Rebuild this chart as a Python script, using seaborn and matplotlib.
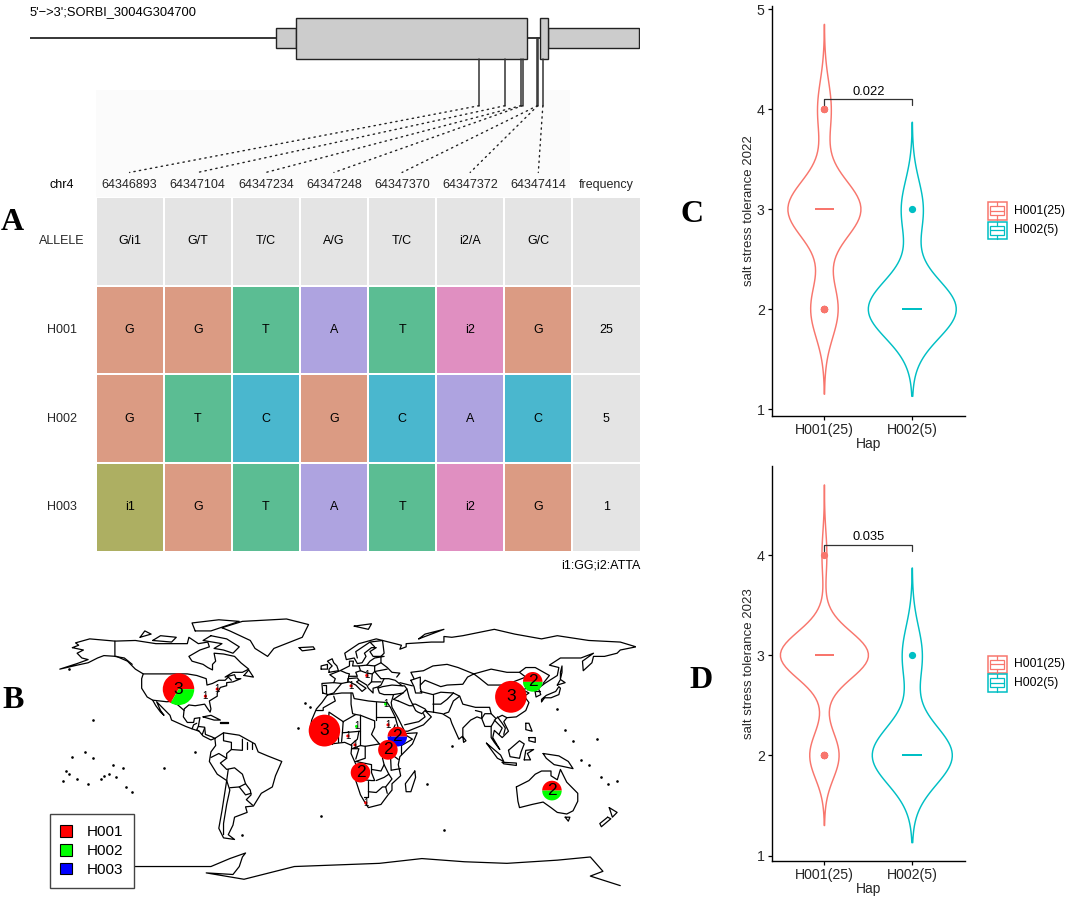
import numpy as np
import pandas as pd
import matplotlib
matplotlib.use('Agg')
import matplotlib.pyplot as plt
from matplotlib.colors import ListedColormap
from matplotlib.patches import ConnectionPatch, Patch, Rectangle
from matplotlib.transforms import Affine2D
import seaborn as sns

# Figure size in pixels
W, H = 1065, 898

# Panel A: gene model and haplotype table
SNP_POS = [64346893, 64347104, 64347234, 64347248, 64347370, 64347372, 64347414]
GENE_SPAN = [64343228, 64348207]
UTR = [(64345232, 64345399), (64347460, 64348195)]
CDS = [(64345399, 64347285), (64347391, 64347460)]
TABLE_COLS = ['64346893', '64347104', '64347234', '64347248', '64347370', '64347372', '64347414', 'frequency']
TABLE_ROWS = ['ALLELE', 'H001', 'H002', 'H003']
TABLE_CELLS = [
    ['G/i1', 'G/T', 'T/C', 'A/G', 'T/C', 'i2/A', 'G/C', ''],
    ['G', 'G', 'T', 'A', 'T', 'i2', 'G', '25'],
    ['G', 'T', 'C', 'G', 'C', 'A', 'C', '5'],
    ['i1', 'G', 'T', 'A', 'T', 'i2', 'G', '1'],
]
ALLELES = ['', 'G', 'T', 'C', 'A', 'i2', 'i1']
ALLELE_COLORS = ['#E4E4E4', '#DB9B83', '#5BBD93', '#4AB7CE', '#AEA3E0', '#E08FC1', '#ADAF62']

# Panel B: haplotype counts per location
HAPLOTYPES = ['H001', 'H002', 'H003']
HAP_MAP_COLORS = ['#FF0000', '#00FF00', '#0000FF']
PIE_LON = [-100.6, -7.9, 110.5, 124.4, 38.4, 32.4, 15.0, 136.6,
           -76.0, -83.5, 9.0, 19.0, 31.0, 32.5, 12.5, 7.0, 11.5, 18.4]
PIE_LAT = [39.4, 13.4, 34.6, 44.0, 9.6, 1.3, -13.0, -24.3,
           39.5, 35.0, 41.5, 48.0, 30.0, 17.0, 16.0, 10.0, 4.4, -32.0]
PIE_TOTAL = [3, 3, 3, 2, 2, 2, 2, 2, 1, 1, 1, 1, 1, 1, 1, 1, 1, 1]
PIE_H001 = [2, 3, 3, 1, 1, 2, 2, 1, 1, 1, 1, 1, 0, 1, 0, 1, 1, 1]
PIE_H002 = [1, 0, 0, 1, 0, 0, 0, 1, 0, 0, 0, 0, 1, 0, 1, 0, 0, 0]
PIE_H003 = [0, 0, 0, 0, 1, 0, 0, 0, 0, 0, 0, 0, 0, 0, 0, 0, 0, 0]
PIE_RADIUS = {3: 10.0, 2: 6.2, 1: 1.0}

# World outlines, lon/lat, read by eye
N_AMERICA = [(-168, 65.5), (-164, 67), (-166, 68.5), (-157, 71), (-141, 69.6), (-128, 70), (-115, 68), (-108, 68), (-95, 68), (-94, 72), (-88, 68), (-82, 69), (-81, 66), (-87, 64), (-94, 60), (-92, 57), (-85, 55), (-82, 53), (-79, 51.5), (-79, 55), (-77, 57), (-78, 62), (-72, 61.5), (-65, 60), (-61, 56), (-56, 52), (-60, 50), (-66, 50), (-71, 47), (-65, 48.5), (-64, 46), (-61, 46), (-66, 44), (-70, 43.5), (-70, 41.6), (-74, 40.5), (-76, 37), (-76, 35), (-81, 32), (-80, 27), (-80.5, 25), (-82, 27), (-84, 30), (-90, 29), (-94, 29.5), (-97, 27), (-97.5, 22), (-95, 18.5), (-91, 18.5), (-90.5, 21), (-87, 21.5), (-88, 16), (-84, 15.5), (-83.5, 11), (-79.5, 9.5), (-77.5, 8.5), (-80, 7.5), (-85, 10), (-87.5, 13), (-92, 14.5), (-96, 16), (-105, 20), (-106, 23), (-112, 29), (-114.5, 31.5), (-112, 26), (-109.8, 23), (-112, 25), (-115, 29), (-117, 32.5), (-120.5, 34.5), (-124, 40), (-124, 46), (-123, 49), (-128, 52), (-133, 57), (-140, 60), (-148, 60.5), (-152, 59), (-158, 56), (-165, 54.5), (-176, 52), (-165, 55.5), (-158, 58), (-162, 59), (-165, 62), (-161, 64), (-168, 65.5)]
S_AMERICA = [(-77.5, 8.5), (-72, 12), (-62, 10.5), (-52, 5), (-50, 0), (-44, -2.5), (-35, -6), (-39, -15), (-41, -22), (-48, -26), (-53, -34), (-58, -34.5), (-57, -38), (-65, -41), (-66, -46), (-69, -52), (-65, -55), (-72, -54), (-75, -48), (-73, -37), (-70, -18), (-76, -14), (-81, -6), (-80, 0), (-77, 4), (-77.5, 8.5)]
AFRICA = [(-6, 35.8), (3, 37), (10, 37), (11, 33.5), (20, 32), (25, 31.5), (32, 31), (34, 28), (37, 22), (39, 15), (43, 11.5), (51, 12), (48, 5), (40, -3), (39, -8), (40.5, -15), (35, -20), (35, -24), (32.5, -27), (28, -33), (20, -35), (18, -32), (15, -27), (12, -18), (13.5, -11), (9, -1), (9.5, 4), (5, 6), (-4, 5), (-8, 4.5), (-13, 8.5), (-17, 14.5), (-16, 20), (-13, 27), (-9.5, 31), (-6, 35.8)]
EURASIA = [(-9, 37), (-9.5, 43), (-2, 43.5), (-1, 46), (-4.5, 48.5), (2, 51), (4, 52), (8, 54), (8, 57), (10.5, 57), (10, 54), (14, 54), (19, 54.5), (21, 57), (24, 59), (30, 60), (23, 60), (21, 63), (25, 65.5), (22, 65.5), (17.5, 62), (18.5, 60), (16, 56), (13, 55.5), (11, 59), (6, 58), (5, 62), (14, 68), (25, 71), (41, 67), (40, 64.5), (44, 66), (44, 68), (60, 69), (68, 69), (68, 72.5), (73, 72), (80, 73), (100, 77), (113, 74), (130, 71), (140, 73), (160, 70), (180, 69), (190, 66), (180, 64), (178, 62), (170, 60), (163, 60), (162, 56), (156.5, 51), (156, 57), (163, 62), (155, 59), (142, 59), (135, 54.5), (141, 53), (140, 48), (132, 43), (128, 40), (129.5, 36), (126.5, 34.5), (126, 37.5), (125, 40), (121, 39), (122, 40.5), (118, 39), (122, 37), (119, 35), (122, 31), (120, 26), (114, 22), (108, 21.5), (106, 19), (109, 13), (105, 9), (100, 13.5), (99, 9), (103.5, 1.5), (100, 6), (98, 9), (98, 16), (94, 16), (92, 21), (89, 22), (85, 20), (80, 15), (80, 10), (77.5, 8), (73, 18), (72, 21), (67, 24), (61, 25), (57, 25.5), (56, 27), (50, 30), (48, 30), (50, 26), (51.5, 25), (54, 24), (56, 26), (60, 22), (55, 17), (45, 13), (43, 13), (39, 21), (35, 28), (34.5, 31), (36, 36), (30, 36), (27, 37), (26, 40), (29, 41), (35, 42), (41.5, 41.5), (37, 45), (33, 46), (30, 46), (28, 42), (26, 40.8), (23, 40), (23, 37), (20, 40), (19, 42), (14, 45), (12.5, 44), (18.5, 40), (16, 38), (12, 42), (8, 44), (3, 43), (0, 39.5), (-2, 37), (-5.5, 36), (-9, 37)]
AUSTRALIA = [(114, -22), (122, -18), (126, -14), (130, -12), (136, -12), (136, -15), (140, -17.5), (142, -11), (146, -19), (153, -26), (153, -31), (150, -37), (146, -39), (140, -38), (136, -35), (131, -31.5), (124, -33), (116, -35), (115, -31), (114, -22)]
ANTARCTICA = [(-129, -72), (-100, -72), (-80, -72), (-68, -67), (-58, -63.5), (-60, -66), (-62, -72), (-66, -77), (-83, -76), (-59, -80), (-27, -72), (27, -70), (54, -67), (81, -69), (108, -70), (140, -68), (161, -66), (169, -75), (161, -78), (180, -84)]
GREENLAND = [(-73, 78), (-60, 82), (-32, 83.5), (-18, 80), (-22, 72), (-40, 65), (-44, 60), (-52, 65), (-55, 70), (-68, 76), (-73, 78)]
ISLANDS = [
    [(-80, 73), (-70, 71), (-62, 66), (-66, 62), (-72, 64), (-78, 65), (-73, 68), (-85, 70), (-80, 73)],
    [(-117, 70), (-105, 69), (-102, 72), (-112, 73), (-117, 70)],
    [(-90, 76), (-80, 76), (-62, 82), (-75, 83), (-92, 81), (-90, 76)],
    [(-125, 72), (-118, 74), (-122, 76), (-125, 72)],
    [(-59, 48), (-53, 47), (-56, 51.5), (-59, 48)],
    [(-85, 22), (-80, 23), (-74, 20), (-78, 20), (-85, 22)],
    [(-74, 19), (-69, 19), (-69, 18), (-74, 18), (-74, 19)],
    [(-24, 65.5), (-15, 66), (-14, 64.5), (-22, 63.5), (-24, 65.5)],
    [(49.5, -12), (50, -16), (47, -25), (44, -25), (43.5, -20), (49.5, -12)],
    [(47, 45), (53, 47), (53, 40), (54, 37), (50, 37), (49, 41), (47, 45)],
    [(-5, 50), (1, 51), (0, 54), (-2, 56), (-3, 58.5), (-6, 57), (-3, 54), (-5, 52), (-5, 50)],
    [(-10, 52), (-6, 52), (-6, 55), (-10, 54), (-10, 52)],
    [(11, 79), (22, 80.5), (20, 77), (11, 79)],
    [(52, 71), (56, 74), (68, 77), (60, 74), (52, 71)],
    [(130, 31.5), (132, 34), (136, 34), (141, 36), (142, 40), (141, 41), (139, 38), (133, 35.5), (130, 33), (130, 31.5)],
    [(140, 42), (145, 43.5), (142, 45.5), (140, 42)],
    [(142, 46), (143, 50), (143, 54), (142, 50), (142, 46)],
    [(120, 18), (122, 18), (124, 13), (120, 14), (120, 18)],
    [(122, 9), (126, 9), (126, 6), (122, 7), (122, 9)],
    [(95, 5.5), (104, -2), (106, -6), (102, -4), (95, 5.5)],
    [(105, -6.5), (114, -7), (114, -8.5), (106, -7.5), (105, -6.5)],
    [(109, 1), (116, 7), (119, 5), (117, 0), (116, -4), (110, -3), (109, 1)],
    [(119, -5), (120, 1), (125, 1.5), (121, -1), (123, -5), (119, -5)],
    [(131, -1), (141, -2.5), (147, -6), (150, -10.5), (143, -9), (138, -8), (133, -4), (131, -1)],
    [(80, 9.5), (82, 7), (80.5, 6), (80, 9.5)],
    [(145, -41), (148, -41), (147, -43.5), (145, -41)],
    [(173, -35), (178, -38), (175, -41), (174, -38), (173, -35)],
    [(172, -41), (174, -42), (168, -47), (167, -45), (172, -41)],
]
BORDERS = [
    # north america
    [(-123, 49), (-95, 49), (-89, 48), (-83, 46), (-82.5, 42), (-79, 43), (-75, 45), (-71, 45), (-69, 47), (-67, 45)],
    [(-141, 69.6), (-141, 60), (-135, 59), (-130, 55)],
    [(-117, 32.5), (-108, 31.5), (-106, 31.7), (-101, 29.5), (-97, 26)],
    [(-92, 14.5), (-91, 17), (-89, 18)], [(-88, 16), (-89, 14), (-87.5, 13)], [(-84, 15), (-85.5, 11)],
    # south america
    [(-72, 12), (-72, 7), (-67, 6), (-67, 1.5)],
    [(-60, 8), (-60, 1), (-67, 1.5), (-70, -1), (-70, -4), (-74, -7), (-70, -11), (-65, -10), (-60, -14), (-58, -20), (-55, -24), (-54.5, -27), (-57.5, -30), (-53.5, -33.5)],
    [(-80, -3.5), (-75, -1), (-70, -4)], [(-70, -18), (-69, -11)],
    [(-70, -18), (-68, -24), (-70, -33), (-72, -45), (-72, -52)],
    [(-68, -22.5), (-62, -22), (-58, -20)], [(-62, -22), (-58, -27), (-54.5, -26)],
    [(-57, 2), (-57, 6)], [(-54, 2), (-54, 5.5)],
    # africa
    [(-2, 35), (-1, 32), (-8.7, 27.7), (-8.7, 26), (-13, 26)],
    [(9, 37), (9, 30), (10, 24), (12, 23.5)], [(25, 31.5), (25, 20)], [(25, 22), (37, 22)],
    [(15, 23), (24, 19.5), (24, 15.5), (22, 11), (27, 5)],
    [(4, 19), (12, 23.5), (15, 23), (15, 13), (3.5, 12), (4, 19)],
    [(-12, 15), (-5.5, 15), (-5, 25), (4, 19)], [(-12, 15), (-12, 12), (-5, 10.5), (-5.5, 15)],
    [(3, 6.5), (3.5, 12)], [(14, 13), (13, 8), (9, 4.5)],
    [(37, 17), (34, 10), (35, 5), (41, 4), (48, 8), (43, 11)],
    [(41, 4), (41, -1.5)], [(34, -1), (39, -4.7)],
    [(12, -6), (18, -4), (18, 3.5), (27, 5), (31, 3), (29, -4), (30, -8), (28, -12), (22, -11), (22, -8), (17, -7), (12, -6)],
    [(34.5, -11.5), (40.5, -10.5)], [(12, -17), (22, -18), (24, -18), (22, -13), (22, -11)],
    [(20, -18), (20, -28.5), (17, -28.5)], [(20, -25), (25, -25.5), (29, -22), (31, -22), (32, -26)],
    [(25, -18), (30, -16), (33, -14), (30, -8)], [(33, -14), (35, -17), (31, -22)],
    [(15, 13), (15, 4), (18, 3.5)], [(15, 4), (9.7, 2), (14, 2), (12, -4.5)],
    [(-3, 5), (-3, 11), (1, 11), (1, 6)], [(-8, 4.5), (-8, 10), (-5, 10.5)],
    [(31, 3), (34, -1), (34.5, -11.5)],
    # europe
    [(-2, 43.5), (3, 43)], [(2.5, 51), (6, 49.5), (8, 49), (7.5, 47.5), (7, 44)],
    [(14, 54), (15, 51), (12, 50), (13, 47.5), (10, 47.5), (7.5, 47.5)],
    [(19, 54.5), (24, 54), (24, 50.5), (22.5, 49), (19, 49.5), (15, 51)],
    [(22.5, 49), (22, 44), (28, 44)], [(22, 44), (20, 42)], [(7, 44), (7, 46), (13, 46.5), (14, 45)],
    [(28, 60), (28, 56), (32, 53), (35, 50), (40, 49.5), (38, 47)], [(24, 54), (28, 56)],
    [(24, 66), (21, 69), (29, 70), (30, 62), (28, 60)], [(13, 59), (12, 63), (21, 69)],
    [(24, 50.5), (32, 52)], [(24, 50.5), (28, 46), (30, 46)], [(-9, 42), (-7, 42), (-7, 37)],
    # asia
    [(36, 36), (42, 37), (44.5, 39.5), (43, 41.5), (41.5, 41.5)], [(40, 43.5), (48, 41.5)],
    [(44.5, 39.5), (46, 34), (48, 30)], [(39, 32), (46, 29), (48, 29)], [(36, 33), (42, 37)], [(36, 33), (39, 32)],
    [(43, 17), (52, 19), (56, 22), (55, 24)], [(49, 46), (47, 50), (55, 51), (61, 54), (70, 55), (77, 53), (87, 49)],
    [(53, 42), (56, 45), (66, 41), (70, 42), (80, 42.5), (83, 47), (87, 49)],
    [(53, 38), (61, 36), (66, 37.5), (74, 37)], [(61, 36), (61, 25)], [(61, 30), (66, 30), (70, 33), (74, 37)],
    [(68, 24), (71, 25), (74, 32), (78, 35)],
    [(74, 37), (78, 35), (80, 30), (88, 28), (97, 28), (98, 24), (101, 21), (105, 23), (108, 21.5)],
    [(87, 49), (98, 52), (108, 50), (116, 50), (120, 47), (112, 44), (105, 42), (96, 42), (91, 46), (87, 49)],
    [(116, 50), (120, 53), (126, 53), (135, 48), (131, 43)], [(124, 40), (130, 42.5)], [(126, 38), (129, 38)],
    [(98, 24), (94, 24), (92, 21)], [(101, 21), (98, 16)], [(102, 22), (105, 18), (107, 15), (106, 11)],
    [(88, 26), (92, 25), (92, 21)], [(100, 20), (105, 15), (103, 11)],
]
SMALL_ISLANDS_LON = [-174, -170, -165, -160, -158, -155, -150, -148, -145, -142, -140, -136, -134, -168, -172, -155, -130,
                     -110, -90, -25, -20, -10, 57, 73, 168, 172, 178, 160, 155, 165, 150, -60, -17, 68, 140, 145, -170]
SMALL_ISLANDS_LAT = [-18, -14, -17, 0, -20, 20, -17, -15, -14, -8, -16, -10, -22, -3, -12, -4, -25,
                     -10, 0, 15, 31, -40, -20, 4, -16, -20, -18, -8, -5, 8, 7, -52, 28, -49, 27, 14, 52]

# Panels C and D: observed scores by haplotype
HAPS = ['H001(25)', 'H002(5)']
HAP_COLORS = ['#F8766D', '#00BFC4']
Y2022_H001 = [2] * 6 + [3] * 16 + [4] * 3
Y2022_H002 = [2] * 4 + [3]
Y2023_H001 = [2] * 6 + [3] * 18 + [4]
Y2023_H002 = [2] * 4 + [3]

sns.set_style('white')
plt.rcParams['font.family'] = ['Liberation Sans', 'DejaVu Sans']
plt.rcParams['text.color'] = 'black'

fig = plt.figure(figsize=(W / 100, H / 100), dpi=100)
px = Affine2D().scale(1, -1).translate(0, H)


def box(left, top, right, bottom):
    return fig.add_axes([left / W, 1 - bottom / H, (right - left) / W, (bottom - top) / H])


# --- Panel A ---
fig.add_artist(Rectangle((96, 90), 474, 107, transform=px, fc='#FBFBFB', ec='none', zorder=-1))

ax_gene = box(30, 0, 640, 197)
ax_gene.patch.set_alpha(0)
ax_gene.set_xlim(GENE_SPAN)
ax_gene.set_ylim(197, 0)
ax_gene.axis('off')
ax_gene.plot(GENE_SPAN, [38, 38], color='black', lw=1.1, zorder=1)
for a, b in UTR:
    ax_gene.add_patch(Rectangle((a, 28), b - a, 20.3, fc='#CCCCCC', ec='#222222', lw=1, zorder=2))
for a, b in CDS:
    ax_gene.add_patch(Rectangle((a, 17.7), b - a, 41, fc='#CCCCCC', ec='#222222', lw=1, zorder=3))
for i, pos in enumerate(SNP_POS):
    top = 38 if pos in (64347370, 64347372) else 58.7
    ax_gene.plot([pos, pos], [top, 105.7], color='#333333', lw=1.1, zorder=4)
fig.text(30, 12, "5'\u2212>3';SORBI_3004G304700", transform=px, fontsize=9.3, va='center', ha='left')

codes = np.array([[ALLELES.index(c) if c in ALLELES else 0 for c in row] for row in TABLE_CELLS])
ax_table = box(95.5, 197, 640.5, 551.5)
sns.heatmap(codes, ax=ax_table, cmap=ListedColormap(ALLELE_COLORS), vmin=0, vmax=len(ALLELES) - 1,
            annot=np.array(TABLE_CELLS), fmt='', annot_kws={'fontsize': 9, 'color': 'black'},
            linewidths=1.2, linecolor='white', cbar=False,
            xticklabels=TABLE_COLS, yticklabels=TABLE_ROWS)
ax_table.xaxis.tick_top()
ax_table.tick_params(axis='x', length=0, labelsize=9, rotation=0, pad=4)
ax_table.tick_params(axis='y', length=0, labelsize=9, rotation=0, pad=24)
for lab in ax_table.get_yticklabels():
    lab.set_ha('center')
fig.text(62, 184.5, 'chr4', transform=px, fontsize=9, ha='center', va='center')
fig.text(640, 565, 'i1:GG;i2:ATTA', transform=px, fontsize=9, ha='right', va='center')

# dotted links from the gene to each table column
for i, pos in enumerate(SNP_POS):
    fig.add_artist(ConnectionPatch(xyA=(pos, 105.7), coordsA=ax_gene.transData,
                                   xyB=(i + 0.5, -0.277), coordsB=ax_table.transData,
                                   linestyle=(0, (1, 3)), lw=1, color='#222222'))

# --- Panel B ---
ax_map = box(53.5, 615, 636, 892)
for line in [N_AMERICA, S_AMERICA, AFRICA, EURASIA, AUSTRALIA, ANTARCTICA, GREENLAND] + ISLANDS + BORDERS:
    xs, ys = zip(*line)
    ax_map.plot(xs, ys, color='black', lw=0.9, solid_joinstyle='round', zorder=1)
ax_map.plot(SMALL_ISLANDS_LON, SMALL_ISLANDS_LAT, ls='none', marker='.', ms=1.8, color='black', zorder=1)

for lon, lat, total, a, b, c in zip(PIE_LON, PIE_LAT, PIE_TOTAL, PIE_H001, PIE_H002, PIE_H003):
    ax_map.pie([a, b, c], colors=HAP_MAP_COLORS, center=(lon, lat), radius=PIE_RADIUS[total],
               startangle=0, frame=True, wedgeprops={'lw': 0, 'zorder': 2})
    ax_map.text(lon, lat, str(total), ha='center', va='center', color='black',
                fontsize=12.5 if total > 1 else 7, zorder=3)
ax_map.set_aspect('auto')
ax_map.set_xlim(-180, 190)
ax_map.set_ylim(-88, 86)
ax_map.axis('off')

fig.legend(handles=[Patch(fc=c, ec='black', lw=0.8, label=h) for c, h in zip(HAP_MAP_COLORS, HAPLOTYPES)],
           loc='lower left', bbox_to_anchor=(49.5 / W, 1 - 887.5 / H), borderaxespad=0,
           frameon=True, fancybox=False, edgecolor='#444444', framealpha=1, fontsize=11,
           handlelength=0.8, handleheight=0.8, handletextpad=0.95, labelspacing=0.3, borderpad=0.7)


# --- Panels C and D ---
def violin_panel(ax, h001, h002, ylabel, pval, ylim, bw1, bw2, w1, w2):
    for hap, values, color, bw, width in zip(HAPS, [h001, h002], HAP_COLORS, [bw1, bw2], [w1, w2]):
        df = pd.DataFrame({'Hap': hap, 'score': values})
        sns.violinplot(data=df, x='Hap', y='score', order=HAPS, ax=ax, fill=False, inner=None,
                       color=color, linewidth=1.05, cut=3, bw_method=bw / np.std(values, ddof=1),
                       density_norm='width', width=width)
        sns.boxplot(data=df, x='Hap', y='score', order=HAPS, ax=ax, fill=False, color=color,
                    linewidth=1.4, width=0.2, showcaps=False,
                    flierprops={'marker': 'o', 'markersize': 4.2, 'markerfacecolor': color,
                                'markeredgecolor': color})
    ax.plot([0, 0, 1, 1], [4.04, 4.1, 4.1, 4.04], color='#333333', lw=0.9)
    ax.text(0.5, 4.115, pval, ha='center', va='bottom', fontsize=9.3)
    ax.set_xlim(-0.6, 1.6)
    ax.set_ylim(ylim)
    ax.set_xlabel('Hap', fontsize=10, labelpad=0)
    ax.set_ylabel(ylabel, fontsize=9.5, labelpad=1)
    ax.tick_params(axis='both', labelsize=10.2, length=3, width=0.9, color='black', left=True, bottom=True, pad=2)
    ax.set_yticks([v for v in [1, 2, 3, 4, 5] if ylim[0] <= v <= ylim[1]])
    sns.despine(ax=ax)
    for s in ['left', 'bottom']:
        ax.spines[s].set_color('black')
        ax.spines[s].set_linewidth(1)


def legend_key(top, color, label):
    # ggplot style boxplot key
    fig.add_artist(Rectangle((987.5, top), 19, 17.5, transform=px, fc='white', ec=color, lw=1.1))
    fig.add_artist(Rectangle((990, top + 4.4), 14, 8.8, transform=px, fc='white', ec=color, lw=0.9))
    for xs, ys in [((990, 1004), (top + 8.8, top + 8.8)), ((997, 997), (top, top + 4.4)),
                   ((997, 997), (top + 13.2, top + 17.5))]:
        fig.add_artist(plt.Line2D(xs, ys, transform=px, color=color, lw=0.9))
    fig.text(1014, top + 9, label, transform=px, fontsize=8.7, va='center', ha='left')


ax_c = box(771.7, 6, 965, 415.7)
violin_panel(ax_c, Y2022_H001, Y2022_H002, 'salt stress tolerance 2022', '0.022', (0.936, 5.033), 0.283, 0.29, 0.83, 1.0)
legend_key(202, HAP_COLORS[0], HAPS[0])
legend_key(221.5, HAP_COLORS[1], HAPS[1])

ax_d = box(771.7, 466, 965, 861)
violin_panel(ax_d, Y2023_H001, Y2023_H002, 'salt stress tolerance 2023', '0.035', (0.947, 4.888), 0.233, 0.29, 1.0, 0.91)
legend_key(655.5, HAP_COLORS[0], HAPS[0])
legend_key(674, HAP_COLORS[1], HAPS[1])

# panel letters
for letter, x, y in [('A', 12, 222), ('B', 13, 700), ('C', 692, 215), ('D', 701, 680)]:
    fig.text(x, y, letter, transform=px, fontsize=23, fontweight='bold', family='Liberation Serif', ha='center', va='center')

fig.savefig('out.png', dpi=100)
